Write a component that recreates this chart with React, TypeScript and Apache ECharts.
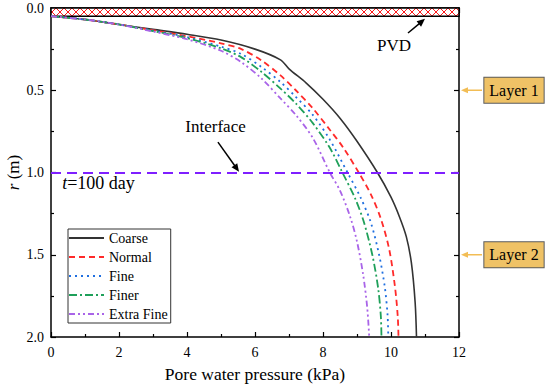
import React, { useEffect, useRef } from 'react';
import * as echarts from 'echarts';

const seriesNames = ['Coarse', 'Normal', 'Fine', 'Finer', 'Extra Fine'];
const seriesColors = ['#333333', '#ff2a2a', '#1f6fe0', '#1fa05a', '#a964e8'];
const seriesDash: (number[] | 'solid')[] = ['solid', [6, 4], [2, 4], [8, 3, 2, 3], [6, 3, 2, 3, 2, 3]];

const coarse: [number, number][] = [
  [0, 0.05], [1, 0.07], [2, 0.1], [3, 0.13], [4, 0.16], [5, 0.195], [6, 0.25], [6.75, 0.315],
  [7.0, 0.37], [7.5, 0.455], [8.0, 0.555], [8.5, 0.67], [9.0, 0.81], [9.6, 1.0], [10.0, 1.15],
  [10.25, 1.27], [10.45, 1.39], [10.6, 1.55], [10.71, 1.79], [10.75, 2.0],
];
const normal: [number, number][] = [
  [0, 0.05], [1, 0.07], [2, 0.1], [3, 0.135], [4, 0.172], [5, 0.215], [5.6, 0.25], [6.2, 0.32],
  [6.75, 0.41], [7.2, 0.5], [7.7, 0.61], [8.2, 0.74], [8.6, 0.85], [9.05, 1.0], [9.4, 1.13],
  [9.7, 1.28], [9.95, 1.47], [10.12, 1.7], [10.2, 1.88], [10.22, 2.0],
];
const fine: [number, number][] = [
  [0, 0.05], [1, 0.07], [2, 0.1], [3, 0.137], [4, 0.177], [5, 0.235], [5.6, 0.28], [6.2, 0.36],
  [6.75, 0.45], [7.2, 0.54], [7.7, 0.65], [8.2, 0.8], [8.72, 1.0], [9.1, 1.15], [9.4, 1.3],
  [9.65, 1.5], [9.82, 1.7], [9.9, 1.87], [9.92, 2.0],
];
const finer: [number, number][] = [
  [0, 0.05], [1, 0.07], [2, 0.1], [3, 0.14], [4, 0.183], [5, 0.245], [5.6, 0.3], [6.2, 0.39],
  [6.75, 0.49], [7.2, 0.58], [7.7, 0.7], [8.2, 0.85], [8.57, 1.0], [8.95, 1.16], [9.2, 1.3],
  [9.45, 1.5], [9.62, 1.7], [9.7, 1.87], [9.72, 2.0],
];
const extraFine: [number, number][] = [
  [0, 0.05], [1, 0.07], [2, 0.1], [3, 0.143], [4, 0.19], [5, 0.26], [5.6, 0.33], [6.2, 0.43],
  [6.75, 0.55], [7.2, 0.65], [7.7, 0.79], [8.2, 1.0], [8.5, 1.11], [8.8, 1.27], [9.0, 1.42],
  [9.18, 1.62], [9.3, 1.82], [9.36, 2.0],
];
const seriesData = [coarse, normal, fine, finer, extraFine];

const xMin = 0, xMax = 12, xInterval = 2;
const yMin = 0, yMax = 2, yInterval = 0.5;
const pvdDepth = 0.05;
const interfaceDepth = 1.0;
const layerLabels = ['Layer 1', 'Layer 2'];
const layerDepths = [0.5, 1.5];

const FONT = 'Liberation Serif';

function makeHatch(): HTMLCanvasElement {
  const c = document.createElement('canvas');
  c.width = 8; c.height = 8;
  const ctx = c.getContext('2d')!;
  ctx.fillStyle = '#ffffff';
  ctx.fillRect(0, 0, 8, 8);
  ctx.strokeStyle = '#ff1a1a';
  ctx.lineWidth = 1;
  ctx.beginPath();
  ctx.moveTo(0, 0); ctx.lineTo(8, 8);
  ctx.moveTo(8, 0); ctx.lineTo(0, 8);
  ctx.stroke();
  return c;
}

function arrow(p0: number[], p1: number[], color: string, width: number, headLen: number, headW: number) {
  const dx = p1[0] - p0[0], dy = p1[1] - p0[1];
  const L = Math.hypot(dx, dy);
  const ux = dx / L, uy = dy / L;
  const bx = p1[0] - ux * headLen, by = p1[1] - uy * headLen;
  const nx = -uy, ny = ux;
  return [
    { type: 'line', silent: true, shape: { x1: p0[0], y1: p0[1], x2: bx + ux, y2: by + uy }, style: { stroke: color, lineWidth: width } },
    { type: 'polygon', silent: true, shape: { points: [[p1[0], p1[1]], [bx + nx * headW, by + ny * headW], [bx - nx * headW, by - ny * headW]] }, style: { fill: color } },
  ];
}

export default function App() {
  const ref = useRef<HTMLDivElement>(null);
  useEffect(() => {
    document.body.style.margin = '0';
    const chart = echarts.init(ref.current!, undefined, { renderer: 'svg' });
    const axisCommon = {
      type: 'value' as const,
      axisLine: { show: true, onZero: false, lineStyle: { color: '#000', width: 1.5 } },
      axisTick: { show: true, inside: true, length: 5, lineStyle: { color: '#000', width: 1.2 } },
      minorTick: { show: true, splitNumber: 2, length: 3, lineStyle: { color: '#000', width: 1.2 } },
      splitLine: { show: false },
      minorSplitLine: { show: false },
    };
    const hatch = makeHatch();
    const series: any[] = seriesData.map((d, i) => ({
      name: seriesNames[i],
      type: 'line',
      data: d,
      smooth: 0.3,
      symbol: 'none',
      showSymbol: false,
      z: 3,
      lineStyle: { color: seriesColors[i], width: i === 0 ? 1.6 : 1.8, type: seriesDash[i] },
      itemStyle: { color: seriesColors[i] },
    }));
    series.push({
      name: 'annot',
      type: 'line',
      data: [],
      silent: true,
      markArea: {
        silent: true,
        itemStyle: { color: { image: hatch, repeat: 'repeat' }, borderColor: '#000', borderWidth: 1.5 },
        label: { show: false },
        data: [[{ xAxis: xMin, yAxis: 0 }, { xAxis: xMax, yAxis: pvdDepth }]],
      },
      markLine: {
        silent: true,
        symbol: 'none',
        label: { show: false },
        lineStyle: { color: '#7f1fff', width: 2, type: [10, 6] },
        data: [{ yAxis: interfaceDepth }],
      },
    });
    const option: any = {
      animation: false,
      textStyle: { fontFamily: FONT },
      grid: { left: 51, right: 91, top: 8, bottom: 53, containLabel: false, outerBoundsMode: 'none' },
      legend: {
        data: seriesNames,
        orient: 'vertical',
        left: 68,
        top: 229,
        itemWidth: 35,
        itemHeight: 14,
        itemGap: 5,
        padding: [2, 3, 2, 0],
        borderColor: '#333',
        borderWidth: 1,
        backgroundColor: '#fff',
        itemStyle: { opacity: 0 },
        textStyle: { fontFamily: FONT, fontSize: 14, color: '#000' },
      },
      xAxis: [
        {
          ...axisCommon, min: xMin, max: xMax, interval: xInterval, position: 'bottom',
          axisLabel: { fontFamily: FONT, fontSize: 14, color: '#000', margin: 8 },
          name: 'Pore water pressure (kPa)', nameLocation: 'middle', nameGap: 28,
          nameTextStyle: { fontFamily: FONT, fontSize: 17.5, color: '#000' },
        },
        { ...axisCommon, min: xMin, max: xMax, interval: xInterval, position: 'top', axisLabel: { show: false } },
      ],
      yAxis: [
        {
          ...axisCommon, min: yMin, max: yMax, interval: yInterval, inverse: true, position: 'left',
          axisLabel: { fontFamily: FONT, fontSize: 14, color: '#000', margin: 7, formatter: (v: number) => v.toFixed(1) },
        },
        { ...axisCommon, min: yMin, max: yMax, interval: yInterval, inverse: true, position: 'right', axisLabel: { show: false } },
      ],
      series,
    };
    chart.setOption(option);

    const px = (v: number, r: number) => chart.convertToPixel({ gridIndex: 0 }, [v, r]) as number[];
    const rightEdge = px(xMax, 0)[0];
    const leftEdge = px(xMin, 0)[0];
    const midY = (px(xMin, yMin)[1] + px(xMin, yMax)[1]) / 2;
    const graphic: any[] = [];
    // y-axis title
    graphic.push({
      type: 'text', silent: true, x: leftEdge - 38, y: midY, rotation: Math.PI / 2,
      style: {
        text: '{i|r} (m)', fontFamily: FONT, fontSize: 17, fill: '#000', align: 'center', verticalAlign: 'middle',
        rich: { i: { fontStyle: 'italic', fontFamily: FONT, fontSize: 17 } },
      },
    });
    const ip = px(4.84, 0.723);
    graphic.push({ type: 'text', silent: true, x: ip[0], y: ip[1], style: { text: 'Interface', fontFamily: FONT, fontSize: 17, fill: '#000', align: 'center', verticalAlign: 'middle' } });
    graphic.push(...arrow(px(4.91, 0.815), px(5.53, 0.995), '#000', 1.5, 8, 3.5));
    const pp = px(10.09, 0.225);
    graphic.push({ type: 'text', silent: true, x: pp[0], y: pp[1], style: { text: 'PVD', fontFamily: FONT, fontSize: 17, fill: '#000', align: 'center', verticalAlign: 'middle' } });
    graphic.push(...arrow(px(10.5, 0.152), px(11.0, 0.066), '#000', 1.5, 8, 3.5));
    const tp = px(0.33, 1.065);
    graphic.push({
      type: 'text', silent: true, x: tp[0], y: tp[1],
      style: {
        text: '{i|t}=100 day', fontFamily: FONT, fontSize: 18, fill: '#000', align: 'left', verticalAlign: 'middle',
        rich: { i: { fontStyle: 'italic', fontFamily: FONT, fontSize: 18 } },
      },
    });
    layerDepths.forEach((d, i) => {
      const y = px(xMax, d)[1];
      graphic.push(...arrow([rightEdge + 23, y], [rightEdge + 2, y], '#f2bd55', 1.5, 7, 3));
      graphic.push({
        type: 'text', silent: true, x: rightEdge + 55, y,
        style: {
          text: layerLabels[i], fontFamily: FONT, fontSize: 16, fill: '#000', align: 'center', verticalAlign: 'middle',
          backgroundColor: '#efc266', borderColor: '#5a5a5a', borderWidth: 1, padding: [5, 5, 4, 5],
        },
      });
    });
    chart.setOption({ graphic });
    return () => chart.dispose();
  }, []);
  return <div ref={ref} style={{ width: 550, height: 390 }} />;
}
